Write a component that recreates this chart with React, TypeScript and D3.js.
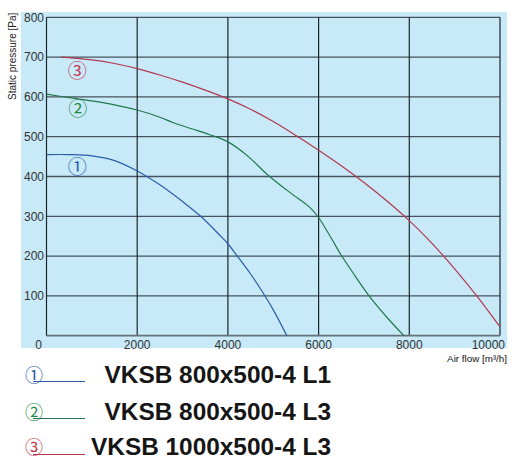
import React from "react";
import * as d3 from "d3";

// Data (Air flow m³/h -> Static pressure Pa)
const curve1Flow = [0, 500, 1000, 1500, 2000, 2500, 3000, 3400, 3800, 4000, 4200, 4500, 4700, 5000, 5300];
const curve1Pressure = [455, 455, 452, 440, 414, 379, 337, 300, 255, 231, 201, 155, 121, 65, 0];

const curve2Flow = [0, 500, 1000, 1500, 2000, 2500, 2800, 3200, 3600, 4000, 4400, 4900, 5400, 5800, 6000, 6150, 6300, 6500, 6800, 7100, 7500, 7880];
const curve2Pressure = [607, 598, 590, 580, 567, 549, 535, 520, 505, 487, 455, 402, 357, 323, 297, 270, 241, 202, 151, 102, 47, 0];

const curve3Flow = [330, 1000, 1500, 2000, 2500, 3000, 3500, 4000, 4500, 5000, 5500, 6000, 6500, 7000, 7500, 8000, 8500, 9000, 9500, 10000];
const curve3Pressure = [700, 693, 684, 671, 655, 637, 617, 595, 569, 538, 503, 466, 427, 385, 339, 289, 232, 168, 98, 22];

const seriesNames = ["VKSB 800x500-4 L1", "VKSB 800x500-4 L3", "VKSB 1000x500-4 L3"];
const seriesMarks = ["①", "②", "③"];
const seriesColors = ["#2b5ea8", "#21794d", "#b3394f"];
const seriesMarkColors = ["#2456b0", "#1f8a45", "#c8344a"];

const xTicks = [0, 2000, 4000, 6000, 8000, 10000];
const yTicks = [100, 200, 300, 400, 500, 600, 700, 800];

const yTitle = "Static pressure [Pa]";
const xTitle = "Air flow [m³/h]";

// label positions of circled numbers in the plot (data coords)
const markFlow = [680, 690, 680];
const markPressure = [423, 570, 665];

export default function App() {
  const W = 515;
  const H = 466;
  const x = d3.scaleLinear().domain([0, 10000]).range([46.5, 500]);
  const y = d3.scaleLinear().domain([0, 800]).range([335.7, 17.3]);

  const line = d3
    .line<[number, number]>()
    .x((d) => x(d[0]))
    .y((d) => y(d[1]))
    .curve(d3.curveCatmullRom.alpha(0.5));

  const series = [
    d3.zip(curve1Flow, curve1Pressure) as [number, number][],
    d3.zip(curve2Flow, curve2Pressure) as [number, number][],
    d3.zip(curve3Flow, curve3Pressure) as [number, number][],
  ];

  const legendBase = [383, 420, 455];
  const legendLineY = [381.5, 418.5, 454.5];
  const legendMarkY = [375.5, 412.5, 447.5];
  const markFont = "'Noto Sans CJK JP', 'DejaVu Sans', sans-serif";

  return (
    <svg
      width={W}
      height={H}
      viewBox={`0 0 ${W} ${H}`}
      style={{ position: "fixed", left: 0, top: 0, background: "#ffffff" }}
      fontFamily="'Liberation Sans', Arial, sans-serif"
    >
      <rect x={21} y={12} width={486} height={336} fill="#c7e9f8" />
      {/* horizontal grid */}
      {yTicks.map((t) => (
        <line key={"h" + t} x1={x(0)} x2={x(10000)} y1={y(t)} y2={y(t)} stroke="#48525c" strokeWidth={1.3} />
      ))}
      {/* vertical grid */}
      {xTicks.map((t) => (
        <line key={"v" + t} x1={x(t)} x2={x(t)} y1={y(800)} y2={y(0)} stroke="#1c2630" strokeWidth={1.2} />
      ))}
      {/* x axis line */}
      <line x1={x(0)} x2={x(10000)} y1={y(0)} y2={y(0)} stroke="#66717a" strokeWidth={1.8} />

      {/* y tick labels */}
      {yTicks.map((t) => (
        <text key={"yl" + t} x={44} y={y(t)} dy="0.36em" textAnchor="end" fontSize={12} fill="#333">
          {t}
        </text>
      ))}
      {/* x tick labels */}
      {xTicks.map((t, i) => {
        const anchor = i === xTicks.length - 1 ? "end" : "middle";
        const px = i === 0 ? x(t) - 8 : i === xTicks.length - 1 ? x(t) + 5 : x(t);
        return (
          <text key={"xl" + t} x={px} y={348.5} textAnchor={anchor} fontSize={12} fill="#333">
            {t}
          </text>
        );
      })}

      <text transform="translate(16,100) rotate(-90)" fontSize={10} fill="#222">
        {yTitle}
      </text>
      <text x={507} y={362} textAnchor="end" fontSize={9.8} fill="#111">
        {xTitle}
      </text>

      {/* curves */}
      {series.map((s, i) => (
        <path key={"c" + i} d={line(s) || ""} fill="none" stroke={seriesColors[i]} strokeWidth={1.2} />
      ))}

      {/* circled marks in the plot */}
      {seriesMarks.map((m, i) => (
        <text
          key={"m" + i}
          x={x(markFlow[i])}
          y={y(markPressure[i])}
          dy="0.36em"
          textAnchor="middle"
          fontSize={19}
          fontFamily={markFont}
          fill={seriesMarkColors[i]}
        >
          {m}
        </text>
      ))}

      {/* legend */}
      {seriesNames.map((n, i) => (
        <g key={"lg" + i}>
          <text
            x={34}
            y={legendMarkY[i]}
            dy="0.36em"
            textAnchor="middle"
            fontSize={18}
            fontFamily={markFont}
            fill={seriesMarkColors[i]}
          >
            {seriesMarks[i]}
          </text>
          <line x1={33} x2={85} y1={legendLineY[i]} y2={legendLineY[i]} stroke={seriesColors[i]} strokeWidth={1.2} />
          <text x={331} y={legendBase[i]} textAnchor="end" fontSize={24.4} fontWeight="bold" fill="#151515">
            {n}
          </text>
        </g>
      ))}
    </svg>
  );
}
